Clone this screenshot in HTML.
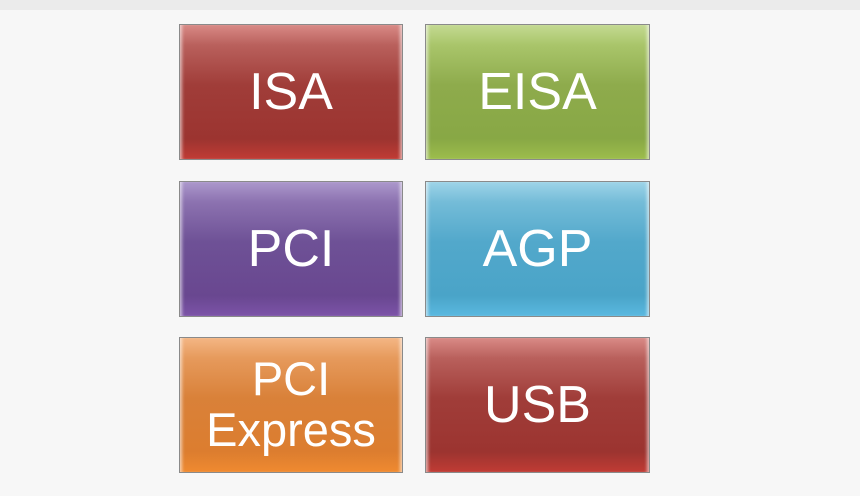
<!DOCTYPE html>
<html><head><style>
body{margin:0;width:860px;height:496px;background:#f7f7f7;position:relative;overflow:hidden;font-family:"Liberation Sans",sans-serif}
.top{position:absolute;left:0;top:0;width:860px;height:10px;background:#ebebeb}
.b{position:absolute;width:224px;height:136px;border:1px solid #8a8a8a;box-sizing:border-box;color:#fff;display:flex;align-items:center;justify-content:center;text-align:center;font-size:52px;line-height:1;box-shadow:inset 4px 0 3px -2px rgba(255,255,255,.6),inset -4px 0 3px -2px rgba(255,255,255,.6)}
.r{background:linear-gradient(#d98a86 0%,#b9605c 15%,#a03d39 45%,#9c3430 85%,#c03b34 100%)}
.g{background:linear-gradient(#c4da92 0%,#a9c56a 15%,#8eab4c 45%,#88a845 85%,#9cbd4c 100%)}
.p{background:linear-gradient(#ac98cc 0%,#8c72b0 15%,#6e5196 45%,#694790 85%,#7c53a8 100%)}
.c{background:linear-gradient(#9ed4e8 0%,#74bcd8 15%,#52a8cb 45%,#4aa4c8 85%,#5ab8e0 100%)}
.o{background:linear-gradient(#f4b684 0%,#e69a5c 15%,#d98139 45%,#dc7d2f 85%,#ef8a30 100%)}
</style></head><body>
<div class="top"></div>
<div class="b r" style="left:179px;top:24px">ISA</div>
<div class="b g" style="left:425px;top:24px;width:225px">EISA</div>
<div class="b p" style="left:179px;top:181px">PCI</div>
<div class="b c" style="left:425px;top:181px;width:225px">AGP</div>
<div class="b o" style="left:179px;top:337px;font-size:47px;line-height:1.08">PCI<br>Express</div>
<div class="b r" style="left:425px;top:337px;width:225px">USB</div>
</body></html>
